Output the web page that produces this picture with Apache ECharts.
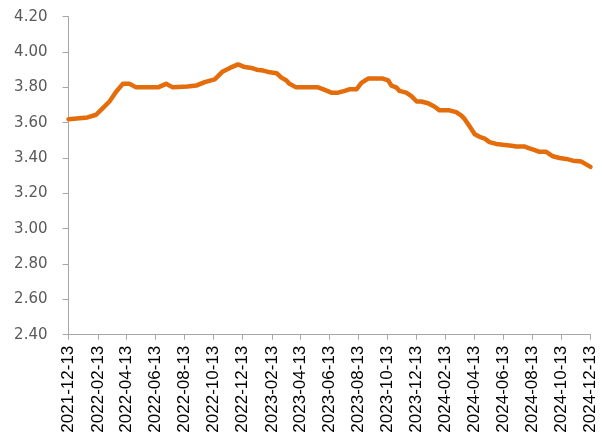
<!DOCTYPE html>
<html>
<head>
<meta charset="utf-8">
<script src="https://cdn.jsdelivr.net/npm/echarts@6/dist/echarts.min.js"></script>
<style>
  html, body { margin: 0; padding: 0; background: #fff; }
  #chart { width: 602px; height: 443px; }
</style>
</head>
<body>
<div id="chart"></div>
<script>
// readings taken off the curve (date, value)
const dates = [
  '2021-12-13', '2022-01-22', '2022-02-09', '2022-02-22', '2022-03-09', '2022-03-23',
  '2022-04-06', '2022-04-20', '2022-05-04', '2022-06-19', '2022-07-06', '2022-07-20',
  '2022-08-20', '2022-09-07', '2022-09-25', '2022-10-16', '2022-11-02', '2022-11-17',
  '2022-12-04', '2022-12-18', '2023-01-01', '2023-01-12', '2023-01-26', '2023-02-09',
  '2023-02-23', '2023-03-05', '2023-03-15', '2023-03-22', '2023-04-05', '2023-05-21',
  '2023-05-31', '2023-06-18', '2023-07-02', '2023-07-16', '2023-07-27', '2023-08-10',
  '2023-08-20', '2023-09-03', '2023-10-04', '2023-10-15', '2023-10-22', '2023-11-01',
  '2023-11-08', '2023-11-22', '2023-12-03', '2023-12-14', '2023-12-24', '2024-01-07',
  '2024-01-21', '2024-01-31', '2024-02-21', '2024-03-06', '2024-03-17', '2024-03-24',
  '2024-04-03', '2024-04-14', '2024-04-24', '2024-05-05', '2024-05-15', '2024-05-29',
  '2024-06-12', '2024-06-30', '2024-07-10', '2024-07-28', '2024-08-07', '2024-08-18',
  '2024-08-28', '2024-09-11', '2024-09-25', '2024-10-09', '2024-10-23', '2024-11-06',
  '2024-11-24', '2024-12-13'
]
const values = [
  3.62, 3.63, 3.645, 3.68, 3.72, 3.775,
  3.82, 3.82, 3.80, 3.80, 3.82, 3.80,
  3.805, 3.81, 3.83, 3.845, 3.89, 3.91,
  3.93, 3.915, 3.91, 3.90, 3.895, 3.885,
  3.88, 3.855, 3.84, 3.82, 3.80, 3.80,
  3.79, 3.77, 3.77, 3.78, 3.79, 3.79,
  3.825, 3.85, 3.85, 3.84, 3.81, 3.80,
  3.78, 3.77, 3.75, 3.72, 3.72, 3.71,
  3.69, 3.67, 3.67, 3.66, 3.64, 3.62,
  3.58, 3.535, 3.52, 3.51, 3.49, 3.48,
  3.475, 3.47, 3.465, 3.465, 3.455, 3.445,
  3.435, 3.435, 3.41, 3.40, 3.395, 3.385,
  3.38, 3.35
]
const startDate = '2021-12-13'
const endDate = '2024-12-13'
const yMin = 2.4
const yMax = 4.2
const yStep = 0.2

// daily categories for the x axis
const categories = []
const pad = (n) => (n < 10 ? '0' + n : '' + n)
let d = new Date(startDate + 'T00:00:00Z')
const last = new Date(endDate + 'T00:00:00Z')
while (d <= last) {
  categories.push(d.getUTCFullYear() + '-' + pad(d.getUTCMonth() + 1) + '-' + pad(d.getUTCDate()))
  d = new Date(d.getTime() + 86400000)
}

// labels on the 13th of every even month
const isLabelDay = (index, value) => {
  const v = categories[index]
  const m = parseInt(v.slice(5, 7), 10)
  return v.slice(8) === '13' && m % 2 === 0
}

var myChart = echarts.init(document.getElementById('chart'))
var option = {
  animation: false,
  grid: {
    left: 68.5,
    right: 11.5,
    top: 16.7,
    bottom: 108.3,
  },
  xAxis: {
    type: 'category',
    data: categories,
    boundaryGap: false,
    axisLine: {
      lineStyle: { color: '#a6a6a6', width: 1 },
    },
    axisTick: {
      interval: isLabelDay,
      length: 5,
      lineStyle: { color: '#a6a6a6' },
    },
    axisLabel: {
      interval: isLabelDay,
      rotate: 90,
      margin: 11,
      color: '#000',
      fontSize: 17,
      fontFamily: 'Liberation Sans',
    },
  },
  yAxis: {
    type: 'value',
    min: yMin,
    max: yMax,
    interval: yStep,
    splitLine: { show: false },
    axisLine: {
      show: true,
      lineStyle: { color: '#a6a6a6', width: 1 },
    },
    axisTick: {
      show: true,
      length: 6,
      lineStyle: { color: '#a6a6a6' },
    },
    axisLabel: {
      margin: 21,
      color: '#595959',
      fontSize: 15,
      fontFamily: 'DejaVu Sans',
      formatter: function (value) {
        return value.toFixed(2)
      },
    },
  },
  series: [
    {
      type: 'line',
      data: dates.map((v, i) => [v, values[i]]),
      showSymbol: false,
      symbol: 'none',
      lineStyle: {
        color: '#e46c0a',
        width: 4.5,
        cap: 'round',
        join: 'round',
      },
    },
  ],
}
myChart.setOption(option)
</script>
</body>
</html>
